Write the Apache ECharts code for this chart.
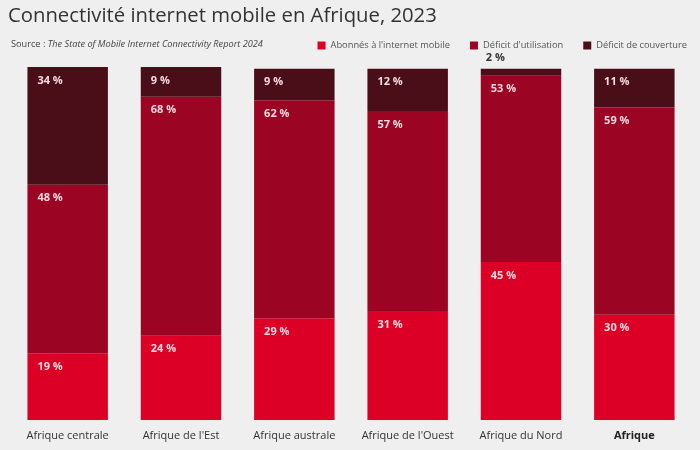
<!DOCTYPE html>
<html><head><meta charset="utf-8">
<script src="https://cdn.jsdelivr.net/npm/echarts@6/dist/echarts.min.js"></script>
<style>html,body{margin:0;padding:0;background:#efefef}#c{width:700px;height:450px}</style>
</head><body><div id="c"></div>
<script>
var categories = ["Afrique centrale","Afrique de l'Est","Afrique australe","Afrique de l'Ouest","Afrique du Nord","Afrique"];
var abonnes = [19,24,29,31,45,30];
var deficitUtilisation = [48,68,62,57,53,59];
var deficitCouverture = [34,9,9,12,2,11];
var seriesNames = ["Abonnés à l'internet mobile","Déficit d'utilisation","Déficit de couverture"];
var colors = ["#dc0026","#9b0523","#4a0e18"];

var chart = echarts.init(document.getElementById('c'));
var labelBase = {
  show: true, position: 'insideTopLeft', distance: 0, offset: [10, 8],
  color: '#f6dbe0', fontFamily: 'Open Sans', fontWeight: 'bold', fontSize: 11,
  formatter: function(p){ return p.value + ' %'; }
};
function mk(name, vals, color, idx){
  return {
    name: name, type: 'bar', stack: 'a', barWidth: '71%',
    itemStyle: {color: color}, label: labelBase,
    data: vals.map(function(v, i){
      if (idx === 2 && v < 5) {
        return {value: v, label: {show: true, position: 'insideTopLeft', offset: [5, -16], color: '#333', fontWeight: 'bold', fontSize: 11, fontFamily: 'Open Sans'}};
      }
      return v;
    })
  };
}
chart.setOption({
  backgroundColor: '#efefef',
  animation: false,
  title: [{
    text: 'Connectivité internet mobile en Afrique, 2023', left: 3, top: 1,
    textStyle: {fontFamily: 'Open Sans', fontSize: 20.3, fontWeight: 'normal', color: '#333'}
  },{
    text: '{n|Source : }{i|The State of Mobile Internet Connectivity Report 2024}', left: 6, top: 35,
    textStyle: {rich: {
      n: {fontFamily: 'Open Sans', fontSize: 9.2, fontWeight: 'normal', color: '#444'},
      i: {fontFamily: 'Open Sans', fontSize: 9.2, fontWeight: 'normal', fontStyle: 'italic', color: '#444'}
    }}
  }],
  legend: {
    right: 8, top: 36, itemWidth: 8, itemHeight: 8, itemGap: 20,
    icon: 'rect',
    textStyle: {fontFamily: 'Open Sans', fontSize: 9.3, color: '#555'},
    data: seriesNames
  },
  grid: {left: 11, right: 9, top: 67, bottom: 30},
  xAxis: {
    type: 'category', data: categories,
    axisLine: {show: false}, axisTick: {show: false},
    axisLabel: {
      interval: 0, margin: 10, fontFamily: 'Open Sans', fontSize: 11, color: '#333',
      formatter: function(v){ return v === 'Afrique' ? '{b|' + v + '}' : v; },
      rich: {b: {fontWeight: 'bold', fontFamily: 'Open Sans', fontSize: 11, color: '#222'}}
    }
  },
  yAxis: {type: 'value', min: 0, max: 100.5, show: false, splitLine: {show: false}},
  series: [
    mk(seriesNames[0], abonnes, colors[0], 0),
    mk(seriesNames[1], deficitUtilisation, colors[1], 1),
    mk(seriesNames[2], deficitCouverture, colors[2], 2)
  ]
});
</script></body></html>
